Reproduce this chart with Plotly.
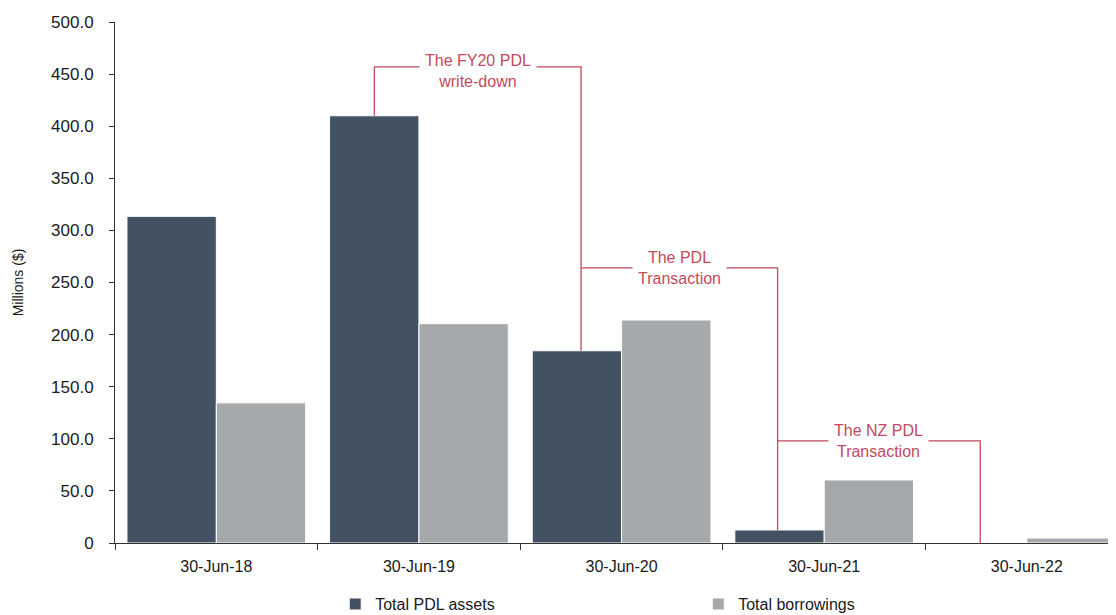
import plotly.graph_objects as go

categories = ["30-Jun-18", "30-Jun-19", "30-Jun-20", "30-Jun-21", "30-Jun-22"]
pdl_assets = [313.5, 410.0, 184.5, 12.5, 0.0]
borrowings = [134.5, 210.5, 214.0, 60.5, 4.8]

y_ticks = [0, 50, 100, 150, 200, 250, 300, 350, 400, 450, 500]
y_ticktext = ["0"] + [f"{v:.1f}" for v in y_ticks[1:]]

# annotation brackets
notes = ["The FY20 PDL<br>write-down", "The PDL<br>Transaction", "The NZ PDL<br>Transaction"]
note_left = [0.78, 1.80, 2.77]
note_right = [1.80, 2.77, 3.77]
note_left_bottom = [410.0, 264.0, 98.0]
note_right_bottom = [184.5, 12.5, 0.0]
note_level = [457.0, 264.0, 98.0]
note_yshift = [-4, 0, 0]

DARK = "#435263"
GREY = "#a6a9ac"
RED = "#c24a5c"
FONT = "Liberation Sans, Arial, sans-serif"

fig = go.Figure()
fig.add_trace(go.Bar(x=categories, y=pdl_assets, name="Total PDL assets",
                     marker=dict(color=DARK, line=dict(color="white", width=1))))
fig.add_trace(go.Bar(x=categories, y=borrowings, name="Total borrowings",
                     marker=dict(color=GREY, line=dict(color="white", width=1))))

for lbl, xl, xr, yl, yr, lv, ys in zip(notes, note_left, note_right, note_left_bottom,
                                       note_right_bottom, note_level, note_yshift):
    fig.add_shape(type="path",
                  path=f"M {xl},{yl} L {xl},{lv} L {xr},{lv} L {xr},{yr}",
                  xref="x", yref="y", line=dict(color=RED, width=1.3))
    fig.add_annotation(x=(xl + xr) / 2, y=lv, xref="x", yref="y", text=lbl,
                       showarrow=False, bgcolor="white", borderpad=5, yshift=ys,
                       font=dict(family=FONT, size=16, color=RED))

fig.update_layout(
    width=1108, height=607,
    margin=dict(l=107, r=0, t=14, b=72, autoexpand=False),
    paper_bgcolor="white", plot_bgcolor="white",
    barmode="group", bargap=0.118, bargroupgap=0,
    font=dict(family=FONT, size=16, color="#1a1a1a"),
    showlegend=True,
    legend=dict(orientation="h", x=0.22, y=0.018, yref="container", xanchor="left",
                yanchor="middle", entrywidth=318, font=dict(size=16), itemclick=False),
    xaxis=dict(type="category", range=[-0.5, 4.44], showline=True, linecolor="#333333",
               linewidth=1, ticks="outside", tickson="boundaries", ticklen=6,
               tickcolor="#333333", showgrid=False, tickfont=dict(size=16),
               ticklabelstandoff=9, automargin=False),
    yaxis=dict(range=[0, 500], tickvals=y_ticks, ticktext=y_ticktext, showline=True,
               linecolor="#333333", linewidth=1, ticks="outside", ticklen=5,
               tickcolor="#333333", showgrid=False, zeroline=False,
               tickfont=dict(size=17), ticklabelstandoff=12, automargin=False,
               title=dict(text="Millions ($)", font=dict(size=14), standoff=24)),
)

fig.write_html("out.html")
